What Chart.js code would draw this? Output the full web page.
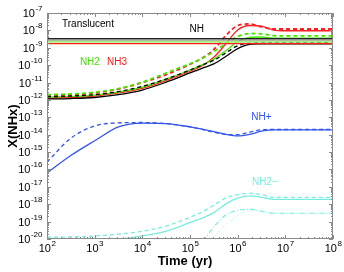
<!DOCTYPE html>
<html>
<head>
<meta charset="utf-8">
<script src="https://cdn.jsdelivr.net/npm/chart.js@4.4.1/dist/chart.umd.min.js"></script>
<style>
  html, body { margin: 0; padding: 0; background: #fff; }
</style>
</head>
<body>
<canvas id="nhx__graph" width="344" height="272"></canvas>
<script>
// time grid, log10(yr)
const logTime = [2, 2.5, 3, 3.5, 4, 4.5, 5, 5.25, 5.5, 5.75, 6, 6.25, 6.5, 6.75, 7, 7.5, 8];

// abundances, log10 X
const nhSolid  = [-11.94, -11.92, -11.86, -11.7, -11.43, -10.98, -10.45, -10.18, -9.93, -9.5, -9.05, -8.8, -8.78, -8.78, -8.78, -8.78, -8.78];
const nhDash   = [-11.82, -11.78, -11.7, -11.52, -11.22, -10.8, -10.28, -10.0, -9.72, -9.3, -8.88, -8.74, -8.71, -8.71, -8.71, -8.71, -8.71];
const nh2Solid = [-11.84, -11.8, -11.72, -11.55, -11.27, -10.8, -10.28, -9.98, -9.65, -9.17, -8.65, -8.4, -8.38, -8.44, -8.45, -8.45, -8.45];
const nh2Dash  = [-11.7, -11.66, -11.56, -11.35, -10.98, -10.45, -9.92, -9.62, -9.22, -8.76, -8.35, -8.18, -8.2, -8.3, -8.32, -8.32, -8.32];
const nh3Solid = [-11.9, -11.86, -11.78, -11.6, -11.33, -10.88, -10.35, -10.05, -9.55, -8.78, -7.98, -7.72, -7.75, -7.98, -8.02, -8.02, -8.02];
const nh3Dash  = [-11.76, -11.72, -11.6, -11.38, -11.0, -10.55, -9.95, -9.6, -9.1, -8.3, -7.72, -7.63, -7.8, -7.92, -7.92, -7.92, -7.92];
const nhpSolid = [-16.2, -15.2, -14.35, -13.55, -13.33, -13.36, -13.55, -13.68, -13.82, -13.98, -14.07, -13.98, -13.8, -13.72, -13.72, -13.72, -13.72];
const nhpDash  = [-15.58, -14.2, -13.5, -13.32, -13.3, -13.36, -13.55, -13.7, -13.86, -13.98, -14.0, -13.85, -13.72, -13.7, -13.7, -13.7, -13.7];
const nh2mSolid = [-20.3, -20.25, -20.2, -20.02, -19.82, -19.55, -19.05, -18.8, -18.48, -17.98, -17.65, -17.52, -17.6, -17.72, -17.72, -17.72, -17.72];
const nh2mDash  = [-19.9, -19.88, -19.83, -19.72, -19.55, -19.25, -18.75, -18.45, -18.05, -17.65, -17.45, -17.37, -17.45, -17.6, -17.6, -17.6, -17.6];
const nh2mDashDot = [null, null, null, null, null, null, -21.0, -20.2, -19.3, -18.62, -18.35, -18.28, -18.4, -18.52, -18.52, -18.52, -18.52];
const nh2mDot     = [null, null, null, null, null, null, null, -21.0, -19.9, -19.2, -18.65, -18.35, -18.42, -18.52, -18.52, -18.52, -18.52];

// translucent (constant) levels, log10 X
const transNH = -8.48;
const transGray = -8.56;
const transNH2 = -8.66;
const transNH3 = -8.76;

// curve labels: text, log10 t, log10 X
const labelText = ["Translucent", "NH", "NH2", "NH3", "NH+", "NH2\u2212"];
const labelT    = [2.86, 5.14, 2.9, 3.47, 6.5, 6.57];
const labelY    = [-7.63, -7.92, -9.82, -9.82, -12.98, -16.72];
const labelColor = ["#000", "#000", "#44dd00", "#ff1a1a", "#3355ee", "#77eedd"];

const BLACK = "#000000";
const GREEN = "#44e600";
const RED = "#ff1f1f";
const BLUE = "#3355ee";
const CYAN = "#77eedd";

const toPoints = (vals) =>
  vals
    .map((v, i) => (v === null ? null : { x: Math.pow(10, logTime[i]), y: Math.pow(10, v) }))
    .filter((p) => p !== null);

const flat = (v) => [
  { x: 1e2, y: Math.pow(10, v) },
  { x: 1e8, y: Math.pow(10, v) },
];

const line = (data, color, width, dash) => ({
  data: data,
  borderColor: color,
  borderWidth: width,
  borderDash: dash || [],
  pointRadius: 0,
  fill: false,
  cubicInterpolationMode: "monotone",
});

const pow10Label = (ctx, exp, x, y, mode) => {
  ctx.font = "11px 'Liberation Sans', Arial, sans-serif";
  const w10 = ctx.measureText("10").width;
  ctx.font = "8px 'Liberation Sans', Arial, sans-serif";
  const wE = ctx.measureText(exp).width;
  let x0;
  if (mode === "y") x0 = x - wE - w10;
  else x0 = x - (w10 + wE) / 2;
  ctx.textAlign = "left";
  ctx.textBaseline = "alphabetic";
  ctx.font = "11px 'Liberation Sans', Arial, sans-serif";
  ctx.fillText("10", x0, y + 4);
  ctx.font = "8px 'Liberation Sans', Arial, sans-serif";
  ctx.fillText(exp, x0 + w10 + 0.5, y - 2);
};

const framePlugin = {
  id: "frame",
  afterDatasetsDraw(chart) {
    const ctx = chart.ctx;
    const a = chart.chartArea;
    const xs = chart.scales.x;
    const ys = chart.scales.y;
    ctx.save();

    // labels on curves
    ctx.font = "10px 'Liberation Sans', Arial, sans-serif";
    ctx.textAlign = "center";
    ctx.textBaseline = "middle";
    labelText.forEach((t, i) => {
      ctx.fillStyle = labelColor[i];
      ctx.fillText(t, xs.getPixelForValue(Math.pow(10, labelT[i])), ys.getPixelForValue(Math.pow(10, labelY[i])));
    });

    // box
    ctx.strokeStyle = "#8a8a8a";
    ctx.lineWidth = 1;
    ctx.strokeRect(a.left + 0.5, a.top + 0.5, a.right - a.left - 1, a.bottom - a.top - 1);

    // inward ticks
    ctx.beginPath();
    for (let d = 2; d <= 8; d++) {
      for (let k = 1; k <= 9; k++) {
        const v = k * Math.pow(10, d);
        if (v > 1e8) break;
        const px = Math.round(xs.getPixelForValue(v)) + 0.5;
        const len = k === 1 ? 4 : 2;
        ctx.moveTo(px, a.bottom);
        ctx.lineTo(px, a.bottom - len);
        ctx.moveTo(px, a.top);
        ctx.lineTo(px, a.top + len);
      }
    }
    for (let d = -20; d <= -7; d++) {
      for (let k = 1; k <= 9; k++) {
        const v = k * Math.pow(10, d);
        if (v > 1e-7) break;
        const py = Math.round(ys.getPixelForValue(v)) + 0.5;
        const len = k === 1 ? 4 : 2;
        ctx.moveTo(a.left, py);
        ctx.lineTo(a.left + len, py);
        ctx.moveTo(a.right, py);
        ctx.lineTo(a.right - len, py);
      }
    }
    ctx.stroke();

    // tick labels
    ctx.fillStyle = "#000";
    for (let d = 2; d <= 8; d++) {
      pow10Label(ctx, String(d), xs.getPixelForValue(Math.pow(10, d)), a.bottom + 9, "x");
    }
    for (let d = -20; d <= -7; d++) {
      pow10Label(ctx, String(d), a.left - 5, ys.getPixelForValue(Math.pow(10, d)), "y");
    }

    // axis titles
    ctx.font = "bold 13px 'Liberation Sans', Arial, sans-serif";
    ctx.textAlign = "center";
    ctx.textBaseline = "alphabetic";
    ctx.fillText("Time (yr)", (a.left + a.right) / 2 - 5, 265);
    ctx.translate(17, (a.top + a.bottom) / 2);
    ctx.rotate(-Math.PI / 2);
    ctx.fillText("X(NHx)", 0, 0);
    ctx.restore();
  },
};

const nhxGraph = () => {
  let ctx = document.getElementById("nhx__graph").getContext("2d");
  let myChart = new Chart(ctx, {
    type: "line",
    data: {
      datasets: [
        line(flat(transGray), "#8c8c8c", 1),
        line(flat(transNH), "#222222", 1.3),
        line(flat(transNH2), "#a6f07a", 2),
        line(flat(transNH3), RED, 1.3),
        line(toPoints(nhSolid), BLACK, 1.3),
        line(toPoints(nhDash), BLACK, 1.3, [4, 3]),
        line(toPoints(nh2Solid), GREEN, 1.3),
        line(toPoints(nh2Dash), GREEN, 1.8, [4, 3]),
        line(toPoints(nh3Solid), RED, 1.3),
        line(toPoints(nh3Dash), RED, 1.8, [4, 3]),
        line(toPoints(nhpSolid), BLUE, 1.3),
        line(toPoints(nhpDash), BLUE, 1.3, [4, 3]),
        line(toPoints(nh2mSolid), CYAN, 1.3),
        line(toPoints(nh2mDash), CYAN, 1.3, [4, 3]),
        line(toPoints(nh2mDashDot), CYAN, 1.1, [5, 2, 1, 2]),
        line(toPoints(nh2mDot), "#aaf5ea", 1, [1, 2]),
      ],
    },
    options: {
      responsive: false,
      animation: false,
      layout: { padding: { top: 13, right: 11, left: 0, bottom: 0 } },
      plugins: {
        legend: { display: false },
        tooltip: { enabled: false },
      },
      scales: {
        x: {
          type: "logarithmic",
          min: 1e2,
          max: 1e8,
          grid: { display: false },
          border: { display: false },
          ticks: { display: false },
          afterFit: (s) => { s.height = 33; },
        },
        y: {
          type: "logarithmic",
          min: 1e-20,
          max: 1e-7,
          grid: { display: false },
          border: { display: false },
          ticks: { display: false },
          afterFit: (s) => { s.width = 47; },
        },
      },
    },
    plugins: [framePlugin],
  });
};

nhxGraph();
</script>
</body>
</html>
